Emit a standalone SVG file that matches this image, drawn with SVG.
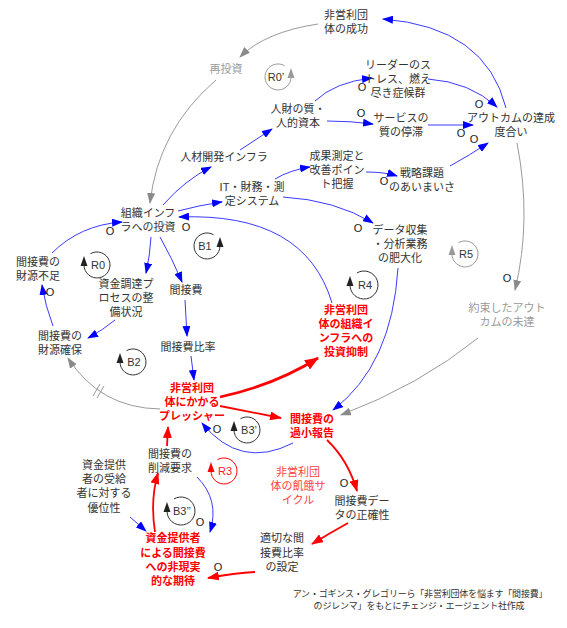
<svg xmlns="http://www.w3.org/2000/svg" width="567" height="628" viewBox="0 0 567 628">
<style>
.t{font-family:"Liberation Sans","Noto Sans CJK JP",sans-serif;font-size:11px;fill:#333;text-anchor:middle}
.r{fill:#ff0000;font-weight:bold}
.rl{fill:#ff4040}
.g{fill:#9a9a9a}
.o{font-family:"Liberation Sans",Arial,sans-serif;font-size:11px;fill:#222;text-anchor:middle}
.lp{font-family:"Liberation Sans",Arial,sans-serif;font-size:11px;fill:#333;text-anchor:middle}
.b{fill:none;stroke:#3a3aff;stroke-width:1}
.rd{fill:none;stroke:#ff0000;stroke-width:1.8}
.rt{fill:none;stroke:#ff0000;stroke-width:2.8}
.gr{fill:none;stroke:#9a9a9a;stroke-width:1}
.lc{fill:none;stroke:#333;stroke-width:1}
.cr{font-family:"Liberation Sans","Noto Sans CJK JP",sans-serif;font-size:9px;fill:#333;text-anchor:middle;letter-spacing:-0.2px}
</style>
<defs>
<marker id="ab" markerWidth="11" markerHeight="8" refX="10" refY="4" orient="auto" markerUnits="userSpaceOnUse"><path d="M0,0 L11,4 L0,8 z" fill="#0000ff"/></marker>
<marker id="ar" markerWidth="12" markerHeight="9" refX="11" refY="4.5" orient="auto" markerUnits="userSpaceOnUse"><path d="M0,0 L12,4.5 L0,9 z" fill="#ff0000"/></marker>
<marker id="art" markerWidth="14" markerHeight="11" refX="13" refY="5.5" orient="auto" markerUnits="userSpaceOnUse"><path d="M0,0 L14,5.5 L0,11 z" fill="#ff0000"/></marker>
<marker id="ag" markerWidth="11" markerHeight="8" refX="10" refY="4" orient="auto" markerUnits="userSpaceOnUse"><path d="M0,0 L11,4 L0,8 z" fill="#8a8a8a"/></marker>
</defs>
<rect width="567" height="628" fill="#ffffff"/>

<g id="connectors">
<path class="b" d="M506,108 Q486,27 383,19" marker-end="url(#ab)"/>
<path class="gr" d="M318,24 Q265,32 240,57" marker-end="url(#ag)"/>
<path class="gr" d="M216,80 Q158,130 150,203" marker-end="url(#ag)"/>
<path class="b" d="M163,205 Q185,180 211,167" marker-end="url(#ab)"/>
<path class="b" d="M178,211 Q200,205 222,202" marker-end="url(#ab)"/>
<path class="b" d="M240,150 L272,129" marker-end="url(#ab)"/>
<path class="b" d="M315,101 Q335,82 372,78" marker-end="url(#ab)"/>
<path class="b" d="M327,121 Q350,121 373,124" marker-end="url(#ab)"/>
<path class="b" d="M428,79 Q470,82 497,107" marker-end="url(#ab)"/>
<path class="b" d="M428,125 L473,125" marker-end="url(#ab)"/>
<path class="b" d="M450,166 Q470,155 488,143" marker-end="url(#ab)"/>
<path class="b" d="M275,179 Q290,170 310,167" marker-end="url(#ab)"/>
<path class="b" d="M366,172 Q385,172 397,176" marker-end="url(#ab)"/>
<path class="b" d="M283,197 Q335,200 373,223" marker-end="url(#ab)"/>
<path class="b" d="M398,268 Q392,365 333,410" marker-end="url(#ab)"/>
<path class="b" d="M332,303 Q305,212 179,217" marker-end="url(#ab)"/>
<path class="b" d="M151,237 Q150,255 146,273" marker-end="url(#ab)"/>
<path class="b" d="M160,237 Q172,258 182,282" marker-end="url(#ab)"/>
<path class="b" d="M52,253 Q80,225 122,222" marker-end="url(#ab)"/>
<path class="b" d="M53,326 Q45,305 42,285" marker-end="url(#ab)"/>
<path class="b" d="M115,320 Q103,330 88,338" marker-end="url(#ab)"/>
<path class="b" d="M185,300 L187,336" marker-end="url(#ab)"/>
<path class="b" d="M191,356 L194,380" marker-end="url(#ab)"/>
<path class="gr" d="M160,409 Q100,408 68,358" marker-end="url(#ag)"/>
<path class="gr" d="M93,396 L100,384 M97,398 L104,386"/>
<path class="rt" d="M220,397 Q275,385 318,358" marker-end="url(#art)"/>
<path class="rd" d="M220,406 L281,418" marker-end="url(#ar)"/>
<path class="b" d="M293,443 Q240,470 202,423" marker-end="url(#ab)"/>
<path class="gr" d="M478,338 Q420,385 341,415" marker-end="url(#ag)"/>
<path class="gr" d="M517,143 Q532,220 515,290" marker-end="url(#ag)"/>
<path class="rd" d="M327,440 Q348,460 357,491" marker-end="url(#ar)"/>
<path class="rd" d="M348,523 Q330,533 312,544" marker-end="url(#ar)"/>
<path class="rd" d="M255,572 Q235,573 208,578" marker-end="url(#ar)"/>
<path class="rd" d="M155,532 Q150,500 158,473" marker-end="url(#ar)"/>
<path class="rd" d="M167,446 L168,427" marker-end="url(#ar)"/>
<path class="b" d="M197,477 Q220,500 210,532" marker-end="url(#ab)"/>
<path class="b" d="M130,517 L146,531" marker-end="url(#ab)"/>
<g class="o">
<text x="362" y="91">O</text>
<text x="361" y="117">O</text>
<text x="479" y="108">O</text>
<text x="461" y="137">O</text>
<text x="474" y="143">O</text>
<text x="384" y="185">O</text>
<text x="358" y="232">O</text>
<text x="186" y="231">O</text>
<text x="110" y="235">O</text>
<text x="50" y="296">O</text>
<text x="217" y="433">O</text>
<text x="507" y="282">O</text>
<text x="344" y="487">O</text>
<text x="200" y="526">O</text>
<text x="218" y="571">O</text>
</g>
</g>

<g id="loops">
<g id="loop-R0p"><path d="M291,77 A13,13 0 1 1 284.5,65.7" fill="none" stroke="#9a9a9a"/><polygon points="287.5,78 294.5,78 291,68" fill="#9a9a9a"/><text class="lp g" x="276" y="81">R0’</text></g>
<g id="loop-R0"><path d="M84,265 A13,13 0 1 0 90.5,253.7" class="lc"/><polygon points="80.5,266 87.5,266 84,256" fill="#222"/><text class="lp" x="98" y="269">R0</text></g>
<g id="loop-B1"><path d="M220,246 A13,13 0 1 1 213.5,234.7" class="lc"/><polygon points="216.5,247 223.5,247 220,237" fill="#222"/><text class="lp" x="205" y="250">B1</text></g>
<g id="loop-B2"><path d="M120,362 A13,13 0 1 0 126.5,350.7" class="lc"/><polygon points="116.5,363 123.5,363 120,353" fill="#222"/><text class="lp" x="134" y="366">B2</text></g>
<g id="loop-R4"><path d="M350,285 A14,14 0 1 0 357,272.9" class="lc"/><polygon points="346.5,286 353.5,286 350,276" fill="#222"/><text class="lp" x="365" y="289">R4</text></g>
<g id="loop-R5"><path d="M452,254 A13,13 0 1 0 458.5,242.7" fill="none" stroke="#9a9a9a"/><polygon points="448.5,255 455.5,255 452,245" fill="#9a9a9a"/><text class="lp g" x="466" y="258">R5</text></g>
<g id="loop-B3p"><path d="M234,430 A13,13 0 1 0 240.5,418.7" class="lc"/><polygon points="230.5,431 237.5,431 234,421" fill="#222"/><text class="lp" x="249" y="434">B3’</text></g>
<g id="loop-R3"><path d="M211,471 A13,13 0 1 0 217.5,459.7" fill="none" stroke="#ff0000"/><polygon points="207.5,472 214.5,472 211,462" fill="#ff0000"/><text class="lp" style="fill:#ff2020" x="225" y="475">R3</text></g>
<g id="loop-B3pp"><path d="M167,511 A14,14 0 1 0 174,498.9" class="lc"/><polygon points="163.5,512 170.5,512 167,502" fill="#222"/><text class="lp" x="182" y="515">B3’’</text></g>
</g>

<g id="n-success"><text class="t" x="346" y="19">非営利団<tspan x="346" dy="14">体の成功</tspan></text></g>
<g id="n-reinvest"><text class="t g" x="226" y="73">再投資</text></g>
<g id="n-stress"><text class="t" x="398" y="69">リーダーのス<tspan x="398" dy="14">トレス、燃え</tspan><tspan x="398" dy="14">尽き症候群</tspan></text></g>
<g id="n-human"><text class="t" x="298" y="113">人財の質・<tspan x="298" dy="14">人的資本</tspan></text></g>
<g id="n-service"><text class="t" x="401" y="122">サービスの<tspan x="401" dy="14">質の停滞</tspan></text></g>
<g id="n-outcome"><text class="t" x="511" y="122">アウトカムの達成<tspan x="511" dy="14">度合い</tspan></text></g>
<g id="n-hrdev"><text class="t" x="224" y="161">人材開発インフラ</text></g>
<g id="n-measure"><text class="t" x="337" y="160">成果測定と<tspan x="337" dy="14">改善ポイン</tspan><tspan x="337" dy="14">ト把握</tspan></text></g>
<g id="n-strategy"><text class="t" x="422" y="177">戦略課題<tspan x="422" dy="14">のあいまいさ</tspan></text></g>
<g id="n-it"><text class="t" x="252" y="191">IT・財務・測<tspan x="252" dy="14">定システム</tspan></text></g>
<g id="n-invest"><text class="t" x="148" y="217">組織インフ<tspan x="148" dy="14">ラへの投資</tspan></text></g>
<g id="n-data"><text class="t" x="400" y="234">データ収集<tspan x="400" dy="14">・分析業務</tspan><tspan x="400" dy="14">の肥大化</tspan></text></g>
<g id="n-shortage"><text class="t" x="38" y="266">間接費の<tspan x="38" dy="14">財源不足</tspan></text></g>
<g id="n-funding"><text class="t" x="126" y="288">資金調達プ<tspan x="126" dy="14">ロセスの整</tspan><tspan x="126" dy="14">備状況</tspan></text></g>
<g id="n-overhead"><text class="t" x="186" y="294">間接費</text></g>
<g id="n-secure"><text class="t" x="60" y="340">間接費の<tspan x="60" dy="14">財源確保</tspan></text></g>
<g id="n-ratio"><text class="t" x="188" y="351">間接費比率</text></g>
<g id="n-pressure"><text class="t r" x="192" y="392">非営利団<tspan x="192" dy="14">体にかかる</tspan><tspan x="192" dy="14">プレッシャー</tspan></text></g>
<g id="n-restrain"><text class="t r" x="346" y="314">非営利団<tspan x="346" dy="14">体の組織イ</tspan><tspan x="346" dy="14">ンフラへの</tspan><tspan x="346" dy="14">投資抑制</tspan></text></g>
<g id="n-unmet"><text class="t g" x="507" y="312">約束したアウト<tspan x="507" dy="14">カムの未達</tspan></text></g>
<g id="n-underreport"><text class="t r" x="312" y="423">間接費の<tspan x="312" dy="14">過小報告</tspan></text></g>
<g id="n-cut"><text class="t" x="170" y="458">間接費の<tspan x="170" dy="14">削減要求</tspan></text></g>
<g id="n-power"><text class="t" x="104" y="469">資金提供<tspan x="104" dy="14">者の受給</tspan><tspan x="104" dy="14">者に対する</tspan><tspan x="104" dy="15">優位性</tspan></text></g>
<g id="n-starvation"><text class="t rl" x="298" y="476">非営利団<tspan x="298" dy="14">体の飢餓サ</tspan><tspan x="298" dy="14">イクル</tspan></text></g>
<g id="n-accuracy"><text class="t" x="362" y="505">間接費デー<tspan x="362" dy="14">タの正確性</tspan></text></g>
<g id="n-proper"><text class="t" x="282" y="542">適切な間<tspan x="282" dy="15">接費比率</tspan><tspan x="282" dy="14">の設定</tspan></text></g>
<g id="n-expect"><text class="t r" x="173" y="542">資金提供者<tspan x="173" dy="15">による間接費</tspan><tspan x="173" dy="14">への非現実</tspan><tspan x="173" dy="14">的な期待</tspan></text></g>
<g id="credit"><text class="cr" x="420" y="597">アン・ゴギンス・グレゴリーら「非営利団体を悩ます「間接費」<tspan x="419" dy="12">のジレンマ」をもとにチェンジ・エージェント社作成</tspan></text></g>
</svg>
